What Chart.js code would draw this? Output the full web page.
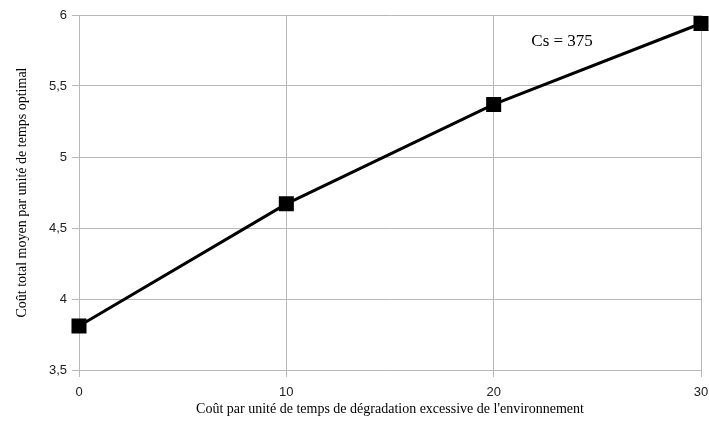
<!DOCTYPE html>
<html>
<head>
<meta charset="utf-8">
<script src="https://cdn.jsdelivr.net/npm/chart.js@4"></script>
<style>
html,body{margin:0;padding:0;background:#fff}
#wrap{width:709px;height:438px}
</style>
</head>
<body>
<div id="wrap"><canvas id="c" width="709" height="438"></canvas></div>
<script>
// data
const costEnv = [0, 10, 20, 30];
const avgCost = [3.81, 4.67, 5.37, 5.94];
const xTicks = [0, 10, 20, 30];
const yTicks = [3.5, 4, 4.5, 5, 5.5, 6];
const note = {x: 23.3, y: 5.81, text: 'Cs = 375'};

const grid = '#b8b8b8';
const fmt = v => String(v).replace('.', ',');
const noPad = () => ({left: 0, right: 0, top: 0, bottom: 0});

// annotation drawn in data coordinates
const notePlugin = {
  id: 'note',
  afterDatasetsDraw(chart){
    const c = chart.ctx, sx = chart.scales.x, sy = chart.scales.y;
    c.save();
    c.font = '17px "Liberation Serif"';
    c.fillStyle = '#000';
    c.textAlign = 'center';
    c.textBaseline = 'middle';
    c.fillText(note.text, sx.getPixelForValue(note.x), sy.getPixelForValue(note.y));
    c.restore();
  }
};

new Chart(document.getElementById('c').getContext('2d'), {
  type: 'line',
  data: {
    datasets: [{
      data: costEnv.map((x, i) => ({x, y: avgCost[i]})),
      borderColor: '#000', backgroundColor: '#000',
      borderWidth: 3, tension: 0, clip: false,
      pointStyle: 'rect', pointRadius: 8.5, pointHoverRadius: 8.5
    }]
  },
  options: {
    responsive: false, animation: false,
    layout: {autoPadding: false, padding: {top: 15, right: 8, left: 0, bottom: 0}},
    plugins: {legend: {display: false}, tooltip: {enabled: false}},
    scales: {
      x: {
        type: 'linear', min: 0, max: 30,
        afterBuildTicks: s => { s.ticks = xTicks.map(v => ({value: v})); },
        afterFit: s => { s.height = 68; s.getPadding = noPad; },
        grid: {color: grid, tickLength: 7},
        border: {color: grid},
        ticks: {color: '#222', font: {family: '"Liberation Sans"', size: 13}, padding: 8, callback: fmt},
        title: {display: true, text: "Coût par unité de temps de dégradation excessive de l'environnement",
          color: '#000', font: {family: '"Liberation Serif"', size: 14}, padding: {top: 0, bottom: 20}}
      },
      y: {
        min: 3.5, max: 6,
        afterBuildTicks: s => { s.ticks = yTicks.map(v => ({value: v})); },
        afterFit: s => { s.width = 79; s.getPadding = noPad; },
        grid: {color: grid, tickLength: 7},
        border: {color: grid},
        ticks: {color: '#222', font: {family: '"Liberation Sans"', size: 13}, padding: 5, callback: fmt},
        title: {display: true, text: 'Coût total moyen par unité de temps optimal',
          color: '#000', font: {family: '"Liberation Serif"', size: 14}, padding: {top: 14, bottom: 0}}
      }
    }
  },
  plugins: [notePlugin]
});
</script>
</body>
</html>
